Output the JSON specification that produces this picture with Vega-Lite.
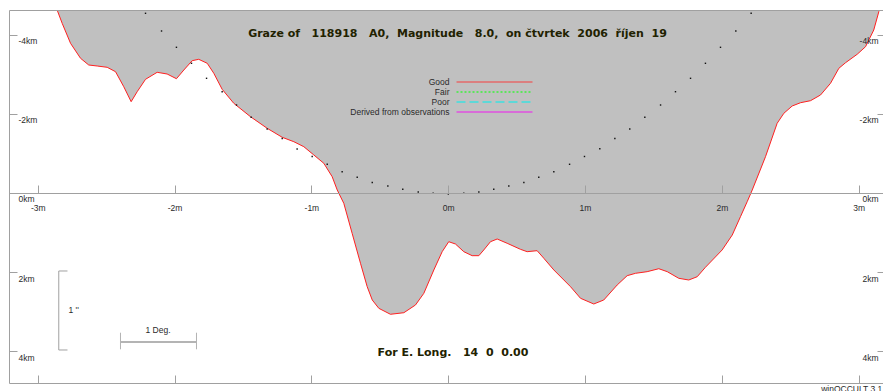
{
  "$schema": "https://vega.github.io/schema/vega-lite/v6.json",
  "width": 874,
  "height": 373,
  "autosize": "none",
  "padding": {"left": 9, "top": 10, "right": 0, "bottom": 8},
  "background": "white",
  "datasets": {
    "profile": [
      {"t": -2.906, "h": -5.13}, {"t": -2.858, "h": -4.621}, {"t": -2.821, "h": -4.285}, {"t": -2.760, "h": -3.780},
      {"t": -2.687, "h": -3.402}, {"t": -2.627, "h": -3.232}, {"t": -2.565, "h": -3.207}, {"t": -2.492, "h": -3.174},
      {"t": -2.431, "h": -3.063}, {"t": -2.371, "h": -2.684}, {"t": -2.317, "h": -2.306}, {"t": -2.273, "h": -2.558},
      {"t": -2.212, "h": -2.871}, {"t": -2.127, "h": -3.048}, {"t": -2.054, "h": -3.005}, {"t": -1.986, "h": -2.886},
      {"t": -1.932, "h": -3.106}, {"t": -1.871, "h": -3.341}, {"t": -1.823, "h": -3.376}, {"t": -1.761, "h": -3.275},
      {"t": -1.713, "h": -3.023}, {"t": -1.652, "h": -2.619}, {"t": -1.567, "h": -2.265}, {"t": -1.445, "h": -1.927},
      {"t": -1.323, "h": -1.634}, {"t": -1.213, "h": -1.407}, {"t": -1.128, "h": -1.295}, {"t": -1.055, "h": -1.169},
      {"t": -0.982, "h": -0.960}, {"t": -0.909, "h": -0.750}, {"t": -0.848, "h": -0.412}, {"t": -0.811, "h": -0.076},
      {"t": -0.763, "h": 0.260}, {"t": -0.702, "h": 1.018}, {"t": -0.641, "h": 1.775}, {"t": -0.592, "h": 2.366},
      {"t": -0.555, "h": 2.702}, {"t": -0.507, "h": 2.912}, {"t": -0.422, "h": 3.063}, {"t": -0.324, "h": 3.023},
      {"t": -0.239, "h": 2.828}, {"t": -0.178, "h": 2.533}, {"t": -0.105, "h": 1.944}, {"t": -0.044, "h": 1.482},
      {"t": 0.004, "h": 1.230}, {"t": 0.053, "h": 1.288}, {"t": 0.114, "h": 1.482}, {"t": 0.175, "h": 1.583},
      {"t": 0.224, "h": 1.583}, {"t": 0.260, "h": 1.439}, {"t": 0.309, "h": 1.230}, {"t": 0.358, "h": 1.162},
      {"t": 0.431, "h": 1.270}, {"t": 0.528, "h": 1.422}, {"t": 0.577, "h": 1.482}, {"t": 0.650, "h": 1.457},
      {"t": 0.699, "h": 1.649}, {"t": 0.772, "h": 1.944}, {"t": 0.894, "h": 2.366}, {"t": 0.967, "h": 2.659},
      {"t": 1.064, "h": 2.803}, {"t": 1.137, "h": 2.702}, {"t": 1.235, "h": 2.323}, {"t": 1.308, "h": 2.088},
      {"t": 1.369, "h": 2.028}, {"t": 1.454, "h": 1.987}, {"t": 1.539, "h": 1.912}, {"t": 1.601, "h": 1.987},
      {"t": 1.685, "h": 2.154}, {"t": 1.758, "h": 2.197}, {"t": 1.820, "h": 2.114}, {"t": 1.880, "h": 1.876},
      {"t": 2.002, "h": 1.439}, {"t": 2.076, "h": 1.061}, {"t": 2.136, "h": 0.598}, {"t": 2.185, "h": 0.220},
      {"t": 2.222, "h": -0.076}, {"t": 2.319, "h": -0.917}, {"t": 2.404, "h": -1.760}, {"t": 2.453, "h": -2.013},
      {"t": 2.514, "h": -2.197}, {"t": 2.575, "h": -2.280}, {"t": 2.648, "h": -2.331}, {"t": 2.721, "h": -2.475},
      {"t": 2.794, "h": -2.770}, {"t": 2.855, "h": -3.149}, {"t": 2.904, "h": -3.290}, {"t": 2.989, "h": -3.503},
      {"t": 3.050, "h": -3.694}, {"t": 3.110, "h": -4.116}, {"t": 3.147, "h": -4.578}, {"t": 3.167, "h": -4.874},
      {"t": 3.189, "h": -5.38}
    ],
    "dots": [
      {"t": -2.212, "h": -4.538}, {"t": -2.095, "h": -4.091}, {"t": -1.986, "h": -3.679}, {"t": -1.876, "h": -3.275},
      {"t": -1.766, "h": -2.896}, {"t": -1.652, "h": -2.558}, {"t": -1.547, "h": -2.222}, {"t": -1.440, "h": -1.912},
      {"t": -1.323, "h": -1.616}, {"t": -1.213, "h": -1.376}, {"t": -1.104, "h": -1.111}, {"t": -0.994, "h": -0.922},
      {"t": -0.884, "h": -0.725}, {"t": -0.775, "h": -0.538}, {"t": -0.665, "h": -0.396}, {"t": -0.555, "h": -0.265},
      {"t": -0.441, "h": -0.177}, {"t": -0.332, "h": -0.093}, {"t": -0.219, "h": -0.025}, {"t": -0.110, "h": 0.008},
      {"t": 0.001, "h": 0.025},
      {"t": 0.114, "h": 0.008}, {"t": 0.224, "h": -0.025}, {"t": 0.333, "h": -0.093}, {"t": 0.443, "h": -0.177},
      {"t": 0.553, "h": -0.265}, {"t": 0.662, "h": -0.396}, {"t": 0.772, "h": -0.538}, {"t": 0.887, "h": -0.725},
      {"t": 0.996, "h": -0.922}, {"t": 1.108, "h": -1.119}, {"t": 1.218, "h": -1.376}, {"t": 1.327, "h": -1.616},
      {"t": 1.437, "h": -1.912}, {"t": 1.552, "h": -2.222}, {"t": 1.661, "h": -2.558}, {"t": 1.771, "h": -2.896},
      {"t": 1.880, "h": -3.275}, {"t": 1.990, "h": -3.679}, {"t": 2.102, "h": -4.091}, {"t": 2.214, "h": -4.538}
    ]
  },
  "resolve": {"axis": {"x": "independent", "y": "independent"}},
  "layer": [
    {
      "data": {"name": "profile"},
      "mark": {"type": "area", "fill": "#c0c0c0", "clip": true},
      "encoding": {
        "x": {"field": "t", "type": "quantitative",
              "scale": {"domain": [-3.2097, 3.1776], "nice": false, "zero": false},
              "axis": {"orient": "top", "offset": -373, "values": [-3, -2, -1, 0, 1, 2, 3], "tickSize": 8, "labels": false, "domain": true, "zindex": 1}},
        "y": {"field": "h", "type": "quantitative",
              "scale": {"domain": [-4.6212, 4.798], "nice": false, "zero": false, "reverse": true},
              "axis": {"orient": "right", "offset": -874, "values": [-4, -2, 0, 2, 4], "tickSize": 8, "labelPadding": 1, "labelAlign": "left", "labelBaseline": "top", "labelOffset": 2, "labelExpr": "datum.value + 'km'", "domain": true, "zindex": 1}},
        "y2": {"datum": -6}
      }
    },
    {
      "data": {"name": "profile"},
      "mark": {"type": "line", "stroke": "#ff2020", "strokeWidth": 1, "clip": true},
      "encoding": {
        "x": {"field": "t", "type": "quantitative",
              "scale": {"domain": [-3.2097, 3.1776], "nice": false, "zero": false},
              "axis": {"orient": "top", "offset": -183, "values": [-3, -2, -1, 0, 1, 2, 3], "tickSize": 8, "labelPadding": -18, "labelBaseline": "top", "labelAlign": "center", "labelExpr": "datum.value + 'm'", "domain": true, "zindex": 1}},
        "y": {"field": "h", "type": "quantitative",
              "scale": {"domain": [-4.6212, 4.798], "nice": false, "zero": false, "reverse": true},
              "axis": {"orient": "left", "offset": -874, "values": [-4, -2, 0, 2, 4], "tickSize": 6, "labelPadding": -1, "labelAlign": "right", "labelBaseline": "top", "labelOffset": 2, "labelExpr": "datum.value + 'km'", "domain": false, "zindex": 1}}
      }
    },
    {
      "data": {"name": "dots"},
      "mark": {"type": "square", "size": 2, "fill": "#111111", "opacity": 1, "strokeWidth": 0, "clip": true},
      "encoding": {
        "x": {"field": "t", "type": "quantitative",
              "axis": {"orient": "top", "offset": 0, "ticks": false, "labels": false, "domain": true, "zindex": 1}},
        "y": {"field": "h", "type": "quantitative", "axis": null}
      }
    },
    {
      "data": {"values": [{"series": "Good"}]},
      "mark": {"type": "rule", "stroke": "#e46a6a", "strokeWidth": 1.6},
      "encoding": {"x": {"datum": 0.0607, "type": "quantitative", "axis": null}, "x2": {"datum": 0.6161}, "y": {"datum": -2.803, "type": "quantitative", "axis": null}}
    },
    {
      "data": {"values": [{"series": "Fair"}]},
      "mark": {"type": "rule", "stroke": "#3cf03c", "strokeWidth": 1.6, "strokeDash": [2, 2]},
      "encoding": {"x": {"datum": 0.0607, "type": "quantitative", "axis": null}, "x2": {"datum": 0.6161}, "y": {"datum": -2.5505, "type": "quantitative", "axis": null}}
    },
    {
      "data": {"values": [{"series": "Poor"}]},
      "mark": {"type": "rule", "stroke": "#3ce0e0", "strokeWidth": 1.6, "strokeDash": [9, 4]},
      "encoding": {"x": {"datum": 0.0607, "type": "quantitative", "axis": null}, "x2": {"datum": 0.6161}, "y": {"datum": -2.298, "type": "quantitative", "axis": null}}
    },
    {
      "data": {"values": [{"series": "Derived from observations"}]},
      "mark": {"type": "rule", "stroke": "#e050e0", "strokeWidth": 1.6},
      "encoding": {"x": {"datum": 0.0607, "type": "quantitative", "axis": null}, "x2": {"datum": 0.6161}, "y": {"datum": -2.0455, "type": "quantitative", "axis": null}}
    },
    {
      "data": {"values": [{"series": "Good"}]},
      "mark": {"type": "text", "align": "right", "baseline": "middle", "font": "Liberation Sans", "fontSize": 8.5, "fill": "#2a2a2a"},
      "encoding": {"text": {"field": "series"}, "x": {"datum": 0.0095, "type": "quantitative", "axis": null}, "y": {"datum": -2.803, "type": "quantitative", "axis": null}}
    },
    {
      "data": {"values": [{"series": "Fair"}]},
      "mark": {"type": "text", "align": "right", "baseline": "middle", "font": "Liberation Sans", "fontSize": 8.5, "fill": "#2a2a2a"},
      "encoding": {"text": {"field": "series"}, "x": {"datum": 0.0095, "type": "quantitative", "axis": null}, "y": {"datum": -2.5505, "type": "quantitative", "axis": null}}
    },
    {
      "data": {"values": [{"series": "Poor"}]},
      "mark": {"type": "text", "align": "right", "baseline": "middle", "font": "Liberation Sans", "fontSize": 8.5, "fill": "#2a2a2a"},
      "encoding": {"text": {"field": "series"}, "x": {"datum": 0.0095, "type": "quantitative", "axis": null}, "y": {"datum": -2.298, "type": "quantitative", "axis": null}}
    },
    {
      "data": {"values": [{"series": "Derived from observations"}]},
      "mark": {"type": "text", "align": "right", "baseline": "middle", "font": "Liberation Sans", "fontSize": 8.5, "fill": "#2a2a2a"},
      "encoding": {"text": {"field": "series"}, "x": {"datum": 0.0095, "type": "quantitative", "axis": null}, "y": {"datum": -2.0455, "type": "quantitative", "axis": null}}
    },
    {
      "data": {"values": [{}]},
      "mark": {"type": "text", "text": "Graze of\u00a0\u00a0\u00a0118918\u00a0\u00a0\u00a0A0,\u00a0\u00a0Magnitude\u00a0\u00a0\u00a08.0,\u00a0\u00a0on čtvrtek\u00a0\u00a02006\u00a0\u00a0říjen\u00a0\u00a019", "align": "center", "baseline": "middle", "font": "DejaVu Sans", "fontWeight": "bold", "fontSize": 11, "fill": "#222200"},
      "encoding": {"x": {"datum": 0.068, "type": "quantitative", "axis": null}, "y": {"datum": -4.023, "type": "quantitative", "axis": null}}
    },
    {
      "data": {"values": [{}]},
      "mark": {"type": "text", "text": "For E. Long.\u00a0\u00a0\u00a014\u00a0\u00a00\u00a0\u00a00.00", "align": "center", "baseline": "middle", "font": "DejaVu Sans", "fontWeight": "bold", "fontSize": 11, "fill": "#222200"},
      "encoding": {"x": {"datum": 0.0351, "type": "quantitative", "axis": null}, "y": {"datum": 4.028, "type": "quantitative", "axis": null}}
    },
    {
      "data": {"values": [{}]},
      "mark": {"type": "rule", "stroke": "#b4b4b4", "strokeWidth": 2},
      "encoding": {"x": {"datum": -2.3949, "type": "quantitative", "axis": null}, "x2": {"datum": -1.8395}, "y": {"datum": 3.7626, "type": "quantitative", "axis": null}}
    },
    {
      "data": {"values": [{}]},
      "mark": {"type": "rule", "stroke": "#b4b4b4", "strokeWidth": 1},
      "encoding": {"x": {"datum": -2.3949, "type": "quantitative", "axis": null}, "y": {"datum": 3.528, "type": "quantitative", "axis": null}, "y2": {"datum": 3.947}}
    },
    {
      "data": {"values": [{}]},
      "mark": {"type": "rule", "stroke": "#b4b4b4", "strokeWidth": 1},
      "encoding": {"x": {"datum": -1.8395, "type": "quantitative", "axis": null}, "y": {"datum": 3.528, "type": "quantitative", "axis": null}, "y2": {"datum": 3.947}}
    },
    {
      "data": {"values": [{}]},
      "mark": {"type": "rule", "stroke": "#a0a0a0", "strokeWidth": 1},
      "encoding": {"x": {"datum": -2.8459, "type": "quantitative", "axis": null}, "y": {"datum": 1.9697, "type": "quantitative", "axis": null}, "y2": {"datum": 3.9646}}
    },
    {
      "data": {"values": [{}]},
      "mark": {"type": "rule", "stroke": "#a0a0a0", "strokeWidth": 1},
      "encoding": {"x": {"datum": -2.8459, "type": "quantitative", "axis": null}, "x2": {"datum": -2.7823}, "y": {"datum": 1.9697, "type": "quantitative", "axis": null}}
    },
    {
      "data": {"values": [{}]},
      "mark": {"type": "rule", "stroke": "#a0a0a0", "strokeWidth": 1},
      "encoding": {"x": {"datum": -2.8459, "type": "quantitative", "axis": null}, "x2": {"datum": -2.7823}, "y": {"datum": 3.9646, "type": "quantitative", "axis": null}}
    },
    {
      "data": {"values": [{}]},
      "mark": {"type": "text", "text": "1 Deg.", "align": "center", "baseline": "middle", "font": "Liberation Sans", "fontSize": 8.5, "fill": "#2a2a2a"},
      "encoding": {"x": {"datum": -2.1209, "type": "quantitative", "axis": null}, "y": {"datum": 3.4596, "type": "quantitative", "axis": null}}
    },
    {
      "data": {"values": [{}]},
      "mark": {"type": "text", "text": "1 ''", "align": "left", "baseline": "middle", "font": "Liberation Sans", "fontSize": 8.5, "fill": "#2a2a2a"},
      "encoding": {"x": {"datum": -2.7749, "type": "quantitative", "axis": null}, "y": {"datum": 2.9545, "type": "quantitative", "axis": null}}
    },
    {
      "data": {"values": [{}]},
      "mark": {"type": "text", "text": "winOCCULT 3.1.0", "align": "left", "baseline": "top", "font": "Liberation Sans", "fontSize": 8.5, "fill": "#2a2a2a"},
      "encoding": {"x": {"datum": 2.726, "type": "quantitative", "axis": null}, "y": {"datum": 4.848, "type": "quantitative", "axis": null}}
    }
  ],
  "config": {
    "view": {"stroke": null},
    "axis": {
      "grid": false,
      "title": null,
      "domainColor": "#a0a0a0",
      "tickColor": "#a0a0a0",
      "labelColor": "#2a2a2a",
      "labelFont": "Liberation Sans",
      "labelFontSize": 8.5,
      "labelFlush": false,
      "labelOverlap": false,
      "zindex": 1,
      "domainWidth": 1,
      "tickWidth": 1
    }
  }
}
